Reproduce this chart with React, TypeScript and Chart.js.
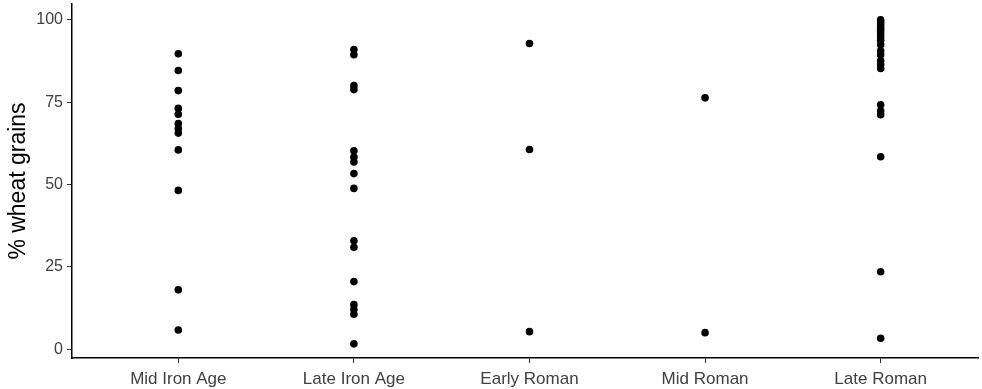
import React, { useEffect, useRef } from "react";
import { Chart, registerables } from "chart.js";

Chart.register(...registerables);

const categories = ["Mid Iron Age", "Late Iron Age", "Early Roman", "Mid Roman", "Late Roman"];

const midIronAge = [89.7, 84.6, 78.5, 73.1, 71.3, 68.5, 67, 65.6, 60.5, 48.2, 18, 5.8];
const lateIronAge = [91, 89.4, 80, 78.8, 60.2, 58.3, 56.8, 53.3, 48.8, 32.9, 30.9, 20.5, 13.5, 12, 10.6, 1.6];
const earlyRoman = [92.8, 60.6, 5.3];
const midRoman = [76.3, 5.0];
const lateRoman = [100, 99.2, 98.4, 97.6, 96.8, 95.8, 94.8, 93.8, 92.4, 90.6, 89.4, 87.6, 86.4, 85.2, 74.2, 72.4, 71.2, 58.4, 23.5, 3.3];

const seriesByCategory = [midIronAge, lateIronAge, earlyRoman, midRoman, lateRoman];
const yTicks = [0, 25, 50, 75, 100];

export default function App() {
  const ref = useRef<HTMLCanvasElement | null>(null);
  useEffect(() => {
    if (!ref.current) return;
    const points = seriesByCategory.flatMap((vals, i) => vals.map((v) => ({ x: i + 1, y: v })));
    const chart = new Chart(ref.current, {
      type: "scatter",
      data: {
        datasets: [
          {
            data: points,
            backgroundColor: "#000000",
            borderColor: "#000000",
            borderWidth: 0,
            pointRadius: 3.8,
            pointHoverRadius: 3.8,
          },
        ],
      },
      options: {
        animation: false,
        responsive: false,
        maintainAspectRatio: false,
        events: [],
        layout: { padding: { top: 4, left: 0, right: 0, bottom: 0 } },
        plugins: { legend: { display: false }, tooltip: { enabled: false } },
        scales: {
          x: {
            type: "linear",
            min: 0.3945,
            max: 5.5555,
            afterBuildTicks: (scale: any) => {
              scale.ticks = categories.map((_, i) => ({ value: i + 1 }));
            },
            afterFit: (scale: any) => {
              scale.height = 31;
              scale.paddingLeft = 0;
              scale.paddingRight = 0;
            },
            ticks: {
              autoSkip: false,
              maxRotation: 0,
              minRotation: 0,
              color: "#404040",
              padding: 6,
              font: { family: "'Liberation Sans', Arial, sans-serif", size: 17 },
              callback: (v: any) => categories[Number(v) - 1] ?? "",
            },
            grid: { drawOnChartArea: false, drawTicks: true, tickLength: 5, tickColor: "#333333", lineWidth: 1 },
            border: { display: true, color: "#000000", width: 1.5 },
          },
          y: {
            type: "linear",
            min: -2.7,
            max: 104.8,
            afterBuildTicks: (scale: any) => {
              scale.ticks = yTicks.map((v) => ({ value: v }));
            },
            afterFit: (scale: any) => {
              scale.width = 72;
              scale.paddingTop = 0;
              scale.paddingBottom = 0;
            },
            ticks: {
              color: "#404040",
              padding: 4,
              font: { family: "'Liberation Sans', Arial, sans-serif", size: 16 },
              callback: (v: any) => String(v),
            },
            title: {
              display: true,
              text: "% wheat grains",
              color: "#000000",
              padding: { top: 5, bottom: 0 },
              font: { family: "'Liberation Sans', Arial, sans-serif", size: 23 },
            },
            grid: { drawOnChartArea: false, drawTicks: true, tickLength: 5, tickColor: "#333333", lineWidth: 1 },
            border: { display: true, color: "#000000", width: 1.5 },
          },
        },
      },
    });
    return () => chart.destroy();
  }, []);
  return (
    <div style={{ position: "absolute", left: 0, top: 0, width: 982, height: 389, background: "#ffffff" }}>
      <canvas ref={ref} width={982} height={389} style={{ width: 982, height: 389, display: "block" }} />
    </div>
  );
}
